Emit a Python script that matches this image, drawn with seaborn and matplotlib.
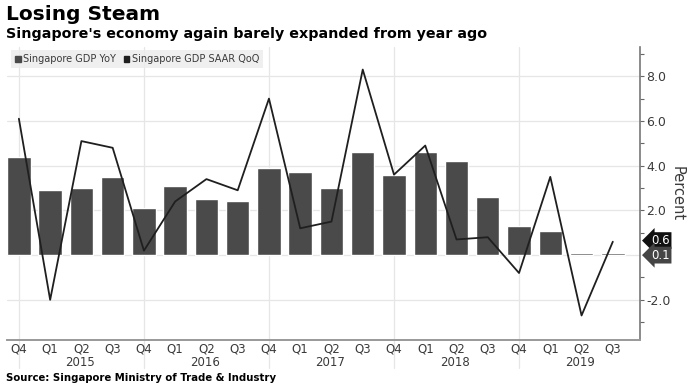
import numpy as np
import pandas as pd
import matplotlib
matplotlib.use("Agg")
import matplotlib.pyplot as plt
import matplotlib.transforms as mtrans
from matplotlib.patches import Patch
import seaborn as sns

sns.set_theme(style="white")
plt.rcParams['font.family'] = ['DejaVu Sans']

# --- data ---
periods = ['2014Q4', '2015Q1', '2015Q2', '2015Q3', '2015Q4',
           '2016Q1', '2016Q2', '2016Q3', '2016Q4',
           '2017Q1', '2017Q2', '2017Q3', '2017Q4',
           '2018Q1', '2018Q2', '2018Q3', '2018Q4',
           '2019Q1', '2019Q2', '2019Q3']
quarter_labels = [p[-2:] for p in periods]
year_labels = ['2015', '2016', '2017', '2018', '2019']
gdp_yoy = [4.4, 2.9, 3.0, 3.5, 2.1, 3.1, 2.5, 2.4, 3.9, 3.7,
           3.0, 4.6, 3.6, 4.6, 4.2, 2.6, 1.3, 1.1, 0.1, 0.1]
gdp_saar_qoq = [6.1, -2.0, 5.1, 4.8, 0.2, 2.4, 3.4, 2.9, 7.0, 1.2,
                1.5, 8.3, 3.6, 4.9, 0.7, 0.8, -0.8, 3.5, -2.7, 0.6]

df = pd.DataFrame({'period': periods, 'yoy': gdp_yoy, 'qoq': gdp_saar_qoq})
df['pos'] = np.arange(len(df))

bar_color = '#4a4a4a'
line_color = '#1f1f1f'
grid_color = '#e6e6e6'
text_color = '#3a3a3a'

fig = plt.figure(figsize=(6.91, 3.90), dpi=100)
ax = fig.add_axes([0.0106, 0.128, 0.9156, 0.751])

sns.barplot(data=df, x='period', y='yoy', color=bar_color, width=0.75,
            saturation=1, ax=ax, zorder=2)
sns.lineplot(data=df, x='pos', y='qoq', color=line_color, lw=1.3, ax=ax,
             zorder=3)

ax.set_xlim(-0.37, 19.87)
ax.set_ylim(-3.8, 9.3)

# y axis on the right
ax.yaxis.tick_right()
ax.yaxis.set_label_position('right')
ax.set_yticks([-2, 2, 4, 6, 8])
ax.set_yticks([-3, -1, 1, 3, 5, 7, 9], minor=True)
ax.set_yticklabels(['-2.0', '2.0', '4.0', '6.0', '8.0'], fontsize=9,
                   color=text_color)
ax.tick_params(axis='y', which='both', direction='out', length=3, width=0.8,
               color='#666666', right=True, left=False, pad=1.5)
ax.set_ylabel('Percent', rotation=270, labelpad=10, fontsize=10.5,
              color=text_color)

ax.set_xticks(df['pos'])
ax.set_xticklabels(quarter_labels, fontsize=8.5, color=text_color)
ax.tick_params(axis='x', length=0, pad=2)
ax.set_xlabel('')

for s in ['top', 'left']:
    ax.spines[s].set_visible(False)
ax.spines['right'].set_color('#777777')
ax.spines['bottom'].set_color('#999999')
ax.spines['right'].set_linewidth(1.2)
ax.spines['bottom'].set_linewidth(1.4)

# grid
for v in [-2, 0, 2, 4, 6, 8]:
    ax.axhline(v, color=grid_color, lw=0.9, zorder=0)
trans = mtrans.blended_transform_factory(ax.transData, ax.transAxes)
for q in range(0, len(df), 4):
    ax.plot([q, q], [-0.095, 1.0], transform=trans, color=grid_color, lw=0.9,
            zorder=0, clip_on=False)

# year labels
for i, yr in enumerate(year_labels):
    ax.text(4 * i + 1.95, -0.075, yr, transform=trans, ha='center',
            va='center', fontsize=8.5, color=text_color)

# last value tags
tag_trans = mtrans.blended_transform_factory(ax.transAxes, ax.transData)
ax.annotate('0.6', xy=(1.0, gdp_saar_qoq[-1]), xycoords=tag_trans,
            xytext=(1.032, gdp_saar_qoq[-1] + 0.05), textcoords=tag_trans,
            ha='center', va='center', fontsize=8.5, color='white',
            bbox=dict(boxstyle='larrow,pad=0.16', fc='#111111', ec='none'))
ax.annotate('0.1', xy=(1.0, gdp_yoy[-1]), xycoords=tag_trans,
            xytext=(1.032, gdp_yoy[-1] - 0.1), textcoords=tag_trans,
            ha='center', va='center', fontsize=8.5, color='white',
            bbox=dict(boxstyle='larrow,pad=0.16', fc='#454545', ec='none'))

# legend
handles = [Patch(color=bar_color, label='Singapore GDP YoY'),
           Patch(color=line_color, label='Singapore GDP SAAR QoQ')]
leg = fig.legend(handles=handles, loc='upper left',
                 bbox_to_anchor=(0.009, 0.885), ncol=2, fontsize=7,
                 frameon=True, fancybox=False, handlelength=0.55,
                 handleheight=0.55, handletextpad=0.25, columnspacing=0.8,
                 borderpad=0.45, labelcolor=text_color)
leg.get_frame().set_facecolor('#ececec')
leg.get_frame().set_edgecolor('none')

# titles and source
fig.text(0.009, 0.962, 'Losing Steam', fontsize=14.5, fontweight='bold',
         va='center', ha='left', color='black')
fig.text(0.009, 0.914, "Singapore's economy again barely expanded from year ago",
         fontsize=10.3, fontweight='bold', va='center', ha='left', color='black')
fig.text(0.009, 0.032, 'Source: Singapore Ministry of Trade & Industry',
         fontsize=7.3, fontweight='bold', va='center', ha='left', color='black')

fig.savefig('out.png', dpi=100)
